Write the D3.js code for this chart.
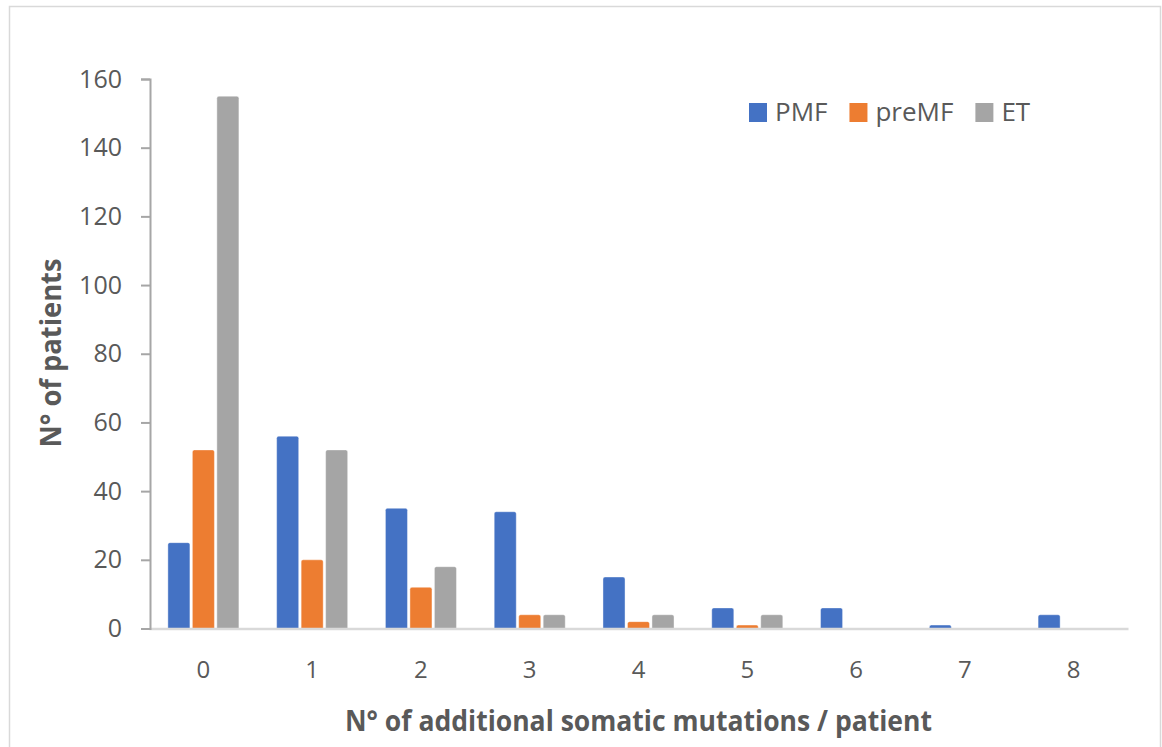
<!DOCTYPE html>
<html>
<head>
<meta charset="utf-8">
<script src="https://cdn.jsdelivr.net/npm/d3@7"></script>
<style>
    body { margin: 0; background: #fff; }
    text { font-family: "Open Sans", "Liberation Sans", sans-serif; fill: #595959; }
</style>
</head>
<body>
<div id="chart"></div>
<script>
// values
let categories = ["0", "1", "2", "3", "4", "5", "6", "7", "8"];
let seriesNames = ["PMF", "preMF", "ET"];
let pmf = [25, 56, 35, 34, 15, 6, 6, 1, 4];
let premf = [52, 20, 12, 4, 2, 1, 0, 0, 0];
let et = [155, 52, 18, 4, 4, 4, 0, 0, 0];
let yTicks = [0, 20, 40, 60, 80, 100, 120, 140, 160];
let colors = ["#4472C4", "#ED7D31", "#A5A5A5"];

let width = 1162,
    height = 747,
    plotLeft = 150,
    plotRight = 1128,
    plotTop = 79,
    plotBottom = 628.5;

let svg = d3.select("#chart").append("svg")
    .attr("width", width)
    .attr("height", height);

// outer frame
svg.append("rect")
    .attr("x", 9.5)
    .attr("y", 6.5)
    .attr("width", 1151)
    .attr("height", 760)
    .attr("fill", "none")
    .attr("stroke", "#d9d9d9")
    .attr("stroke-width", 1.5);

let table = categories.map(function(c, i) {
    return { cat: c, values: [pmf[i], premf[i], et[i]] };
});

let y = d3.scaleLinear()
    .domain([0, 160])
    .range([plotBottom, plotTop]);

let x0 = d3.scaleBand()
    .domain(categories)
    .range([149, plotRight])
    .paddingInner(0.347)
    .paddingOuter(0.1735);

let x1 = d3.scaleBand()
    .domain(seriesNames)
    .range([0, x0.bandwidth()])
    .paddingInner(0.1);

let group = svg.append("g")
    .selectAll(".group")
    .data(table)
    .enter()
    .append("g")
    .attr("transform", function(d) { return "translate(" + x0(d.cat) + ",0)"; });

group.selectAll("rect")
    .data(function(d) {
        return d.values.map(function(v, i) { return { name: seriesNames[i], v: v, c: colors[i] }; })
            .filter(function(e) { return e.v > 0; });
    })
    .enter()
    .append("rect")
    .attr("x", function(d) { return x1(d.name); })
    .attr("y", function(d) { return y(d.v); })
    .attr("width", x1.bandwidth())
    .attr("height", function(d) { return plotBottom - y(d.v) + 1; })
    .attr("rx", 2)
    .attr("fill", function(d) { return d.c; })
    .attr("stroke", "#ffffff")
    .attr("stroke-opacity", 0.5)
    .attr("stroke-width", 0.8);

// x axis
let xAxis = svg.append("g")
    .attr("transform", "translate(0," + plotBottom + ")")
    .call(d3.axisBottom(x0).tickSize(0).tickPadding(32));
xAxis.select(".domain")
    .attr("stroke", "#d9d9d9")
    .attr("stroke-width", 2.5);
xAxis.selectAll("text")
    .attr("font-size", 24)
    .attr("font-family", null);

// y axis
let yAxis = svg.append("g")
    .attr("transform", "translate(" + plotLeft + ",0)")
    .call(d3.axisLeft(y).tickValues(yTicks).tickSize(9).tickSizeOuter(9).tickPadding(19));
yAxis.select(".domain")
    .attr("stroke", "#a6a6a6")
    .attr("stroke-width", 2);
yAxis.selectAll(".tick line")
    .attr("stroke", "#a6a6a6")
    .attr("stroke-width", 2);
yAxis.selectAll("text")
    .attr("font-size", 25)
    .attr("font-family", null);

// axis titles
svg.append("text")
    .attr("x", 638.5)
    .attr("y", 731)
    .attr("text-anchor", "middle")
    .attr("font-size", 28)
    .attr("font-weight", "bold")
    .attr("textLength", 587)
    .attr("lengthAdjust", "spacingAndGlyphs")
    .text("N° of additional somatic mutations / patient");

svg.append("text")
    .attr("transform", "translate(61,353) rotate(-90)")
    .attr("text-anchor", "middle")
    .attr("font-size", 28)
    .attr("font-weight", "bold")
    .attr("textLength", 189)
    .attr("lengthAdjust", "spacingAndGlyphs")
    .text("N° of patients");

// legend
let lx = 749;
seriesNames.forEach(function(n, i) {
    svg.append("rect")
        .attr("x", lx)
        .attr("y", 103)
        .attr("width", 18)
        .attr("height", 19)
        .attr("fill", colors[i]);
    let t = svg.append("text")
        .attr("x", lx + 26)
        .attr("y", 121)
        .attr("font-size", 26)
        .text(n);
    lx += 26 + t.node().getComputedTextLength() + 22;
});
</script>
</body>
</html>
